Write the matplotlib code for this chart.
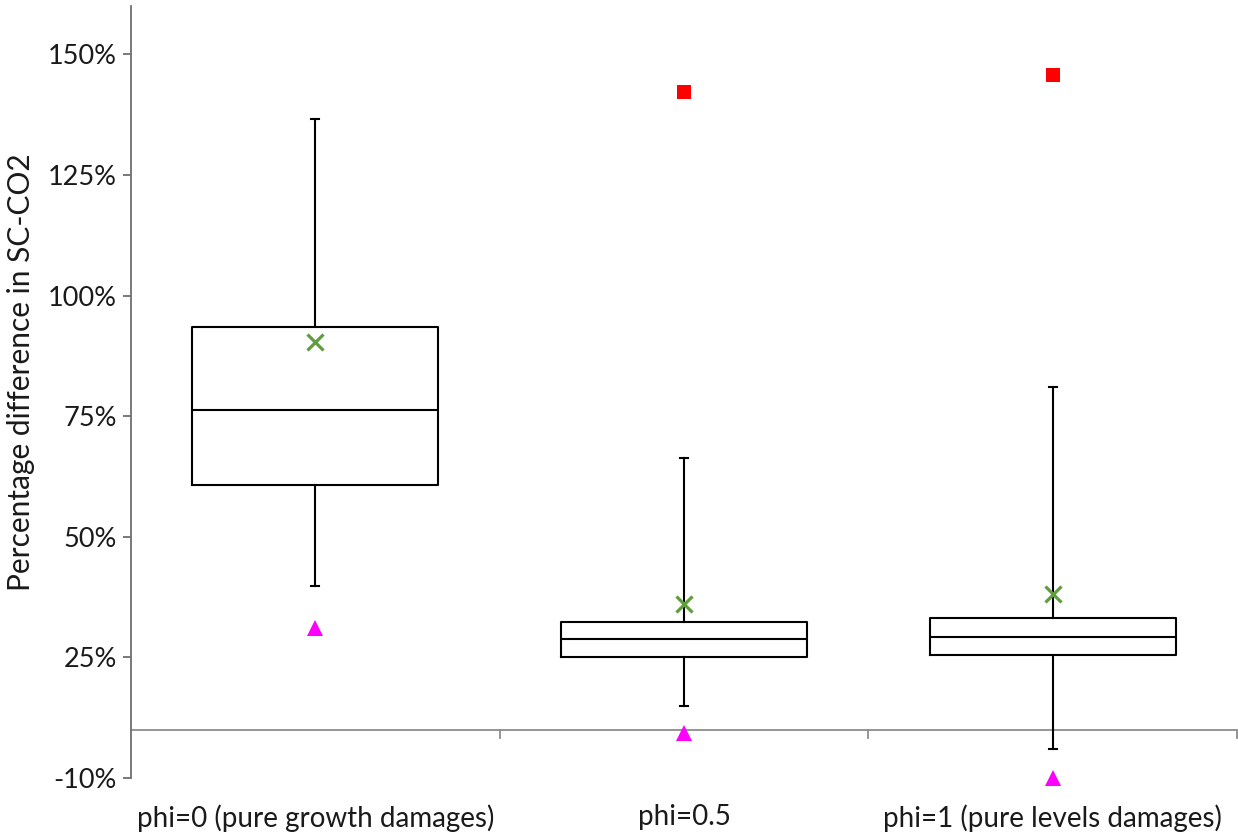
import matplotlib
matplotlib.use("Agg")
import matplotlib.pyplot as plt

# Box summary values (in axis units of the plot)
categories = ["phi=0 (pure growth damages)", "phi=0.5", "phi=1 (pure levels damages)"]
whisker_low = [39.7, 14.9, 6.0]
q1 = [60.8, 25.0, 25.5]
median = [76.2, 28.8, 29.2]
q3 = [93.5, 32.3, 33.1]
whisker_high = [136.6, 66.4, 81.1]
means = [90.4, 36.0, 38.1]

# extra points: red squares (only for phi=0.5 and phi=1) and magenta triangles
square_cats = [2, 3]
square_vals = [142.2, 145.7]
triangle_vals = [31.0, 9.3, 0.0]

ytick_vals = [0, 25, 50, 75, 100, 125, 150]
ytick_labels = ["-10%", "25%", "50%", "75%", "100%", "125%", "150%"]
baseline = 10  # where the category axis crosses

plt.rcParams["font.family"] = ["Lato", "DejaVu Sans"]
text_color = "#1a1a1a"

fig = plt.figure(figsize=(12.38, 8.34), dpi=100)
ax = fig.add_axes([0.1058, 0.0671, 0.8934, 0.9257])

stats = []
for i in range(len(categories)):
    stats.append({
        "label": categories[i],
        "whislo": whisker_low[i],
        "q1": q1[i],
        "med": median[i],
        "q3": q3[i],
        "whishi": whisker_high[i],
        "mean": means[i],
        "fliers": [],
    })

line = dict(color="black", linewidth=1.5)
ax.bxp(stats, positions=[1, 2, 3], widths=0.667, showmeans=True,
       boxprops=line, medianprops=line, whiskerprops=line,
       capprops=line, capwidths=0.022,
       meanprops=dict(marker="x", markeredgecolor="#5f9e3d", markeredgewidth=2.3,
                      markersize=11, linestyle="none"))

ax.plot(square_cats, square_vals, linestyle="none", marker="s",
        markersize=10.5, color="#ff0000", markeredgewidth=0)
ax.plot([1, 2, 3], triangle_vals, linestyle="none", marker="^",
        markersize=11, color="#ff00ff", markeredgewidth=0, clip_on=False)

ax.set_xlim(0.5, 3.5)
ax.set_ylim(0, 160)

# category axis line and separator ticks
ax.axhline(baseline, color="#8c8c8c", linewidth=1.3, zorder=1)
for sep in [1.5, 2.5, 3.5]:
    ax.plot([sep, sep], [baseline, baseline - 1.7], color="#8c8c8c",
            linewidth=1.3, clip_on=False, zorder=1)

for side in ["top", "right", "bottom"]:
    ax.spines[side].set_visible(False)
ax.spines["left"].set_color("#6e6e6e")
ax.spines["left"].set_linewidth(1.3)

ax.set_yticks(ytick_vals)
ax.set_yticklabels(ytick_labels)
ax.tick_params(axis="y", direction="out", length=6, width=1.3, color="#6e6e6e",
               labelsize=19.5, labelcolor=text_color, pad=4)
ax.set_xticks([1, 2, 3])
ax.set_xticklabels(categories)
ax.tick_params(axis="x", length=0, labelsize=20, labelcolor=text_color, pad=19)

ax.set_ylabel("Percentage difference in SC-CO2", fontsize=21.5, color=text_color)
ax.yaxis.set_label_coords(-0.087, 0.526)

fig.savefig("out.png", dpi=100)
